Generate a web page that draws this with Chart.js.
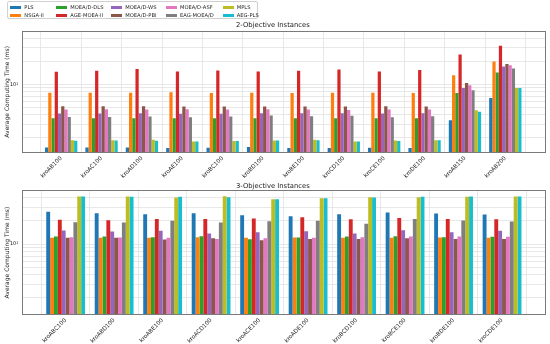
<!DOCTYPE html>
<html lang="en">
<head>
    <meta charset="UTF-8">
    <title>Average Computing Time</title>
    <script src="https://cdn.jsdelivr.net/npm/chart.js"></script>
    <style>
        body {
            margin: 0;
            background: #fff;
            font-family: "DejaVu Sans", sans-serif;
        }
        #wrap {
            position: relative;
            width: 550px;
            height: 344px;
            overflow: hidden;
        }
        #c2 { position: absolute; left: 0; top: 0; }
        #c3 { position: absolute; left: 0; top: 178px; }
        #legend {
            position: absolute;
            left: 6.7px;
            top: 0.5px;
            width: 251px;
            height: 18.5px;
            border: 0.8px solid #d0d0d0;
            border-radius: 2px;
            background: #fff;
            box-sizing: border-box;
        }
        .sw {
            position: absolute;
            width: 10.7px;
            height: 3px;
        }
        .lb {
            position: absolute;
            font-size: 5.2px;
            line-height: 6px;
            color: #222;
            white-space: nowrap;
        }
    </style>
</head>
<body>
<div id="wrap">
    <canvas id="c2" width="550" height="182"></canvas>
    <canvas id="c3" width="550" height="166"></canvas>
    <div id="legend"></div>
</div>

<script>
    const methods = ['PLS', 'NSGA-II', 'MOEA/D-DLS', 'AGE-MOEA-II', 'MOEA/D-WS', 'MOEA/D-PBI', 'MOEA/D-ASF', 'EAG-MOEA/D', 'MPLS', 'AEG-PLS'];
    const colors = ['#1f77b4', '#ff7f0e', '#2ca02c', '#d62728', '#9467bd', '#8c564b', '#e377c2', '#7f7f7f', '#bcbd22', '#17becf'];

    // 2-objective instances
    const cats2 = ['kroAB100', 'kroAC100', 'kroAD100', 'kroAE100', 'kroBC100', 'kroBD100', 'kroBE100', 'kroCD100', 'kroCE100', 'kroDE100', 'kroAB150', 'kroAB200'];
    const pls2  = [1.50, 1.50, 1.50, 1.475, 1.49, 1.52, 1.475, 1.475, 1.49, 1.475, 3.4, 6.64];
    const nsga2 = [7.79, 7.79, 7.79, 7.87, 7.72, 7.79, 7.72, 7.79, 7.79, 7.72, 13.1, 19.9];
    const dls2  = [3.62, 3.62, 3.62, 3.62, 3.62, 3.62, 3.62, 3.62, 3.62, 3.62, 7.7, 14.3];
    const age2  = [14.6, 15.05, 15.8, 14.75, 15.2, 14.75, 15.05, 15.66, 14.75, 15.35, 24.5, 32];
    const ws2   = [4.16, 4.16, 4.20, 4.12, 4.12, 4.20, 4.20, 4.20, 4.16, 4.20, 8.95, 17.1];
    const pbi2  = [5.18, 5.18, 5.18, 5.13, 5.13, 5.13, 5.13, 5.13, 5.18, 5.13, 10.4, 18.4];
    const asf2  = [4.69, 4.74, 4.69, 4.74, 4.69, 4.74, 4.69, 4.64, 4.69, 4.69, 9.7, 17.8];
    const eag2  = [3.76, 3.76, 3.80, 3.73, 3.80, 3.92, 3.84, 3.88, 3.73, 3.84, 8.4, 16.1];
    const mpls2 = [1.87, 1.87, 1.89, 1.80, 1.82, 1.855, 1.89, 1.80, 1.855, 1.87, 4.6, 8.95];
    const aeg2  = [1.84, 1.855, 1.84, 1.80, 1.82, 1.855, 1.87, 1.80, 1.82, 1.87, 4.4, 8.95];

    // 3-objective instances
    const cats3 = ['kroABC100', 'kroABD100', 'kroABE100', 'kroACD100', 'kroACE100', 'kroADE100', 'kroBCD100', 'kroBCE100', 'kroBDE100', 'kroCDE100'];
    const pls3  = [26.3, 25.3, 24.5, 25.3, 23.8, 23.1, 24.5, 25.8, 25.0, 24.3];
    const nsga3 = [12.1, 12.1, 12.1, 12.3, 12.1, 12.2, 12.1, 12.1, 12.2, 12.1];
    const dls3  = [12.6, 12.6, 12.3, 12.7, 11.6, 12.2, 12.6, 12.7, 12.3, 12.45];
    const age3  = [20.7, 20.5, 21.3, 21.3, 21.5, 22.4, 21.1, 21.8, 21.3, 21.1];
    const ws3   = [15.05, 14.6, 14.9, 13.8, 14.3, 14.75, 13.8, 15.2, 14.3, 14.9];
    const pbi3  = [12.1, 12.1, 11.5, 11.97, 11.2, 11.7, 11.7, 11.97, 11.7, 11.7];
    const asf3  = [12.3, 12.2, 12.1, 11.7, 11.97, 12.1, 12.3, 12.6, 12.6, 12.45];
    const eag3  = [19.3, 19.1, 20.1, 19.1, 19.9, 20.1, 18.4, 21.3, 20.3, 19.7];
    const mpls3 = [41.6, 41.6, 40.4, 42.0, 38.4, 39.6, 40.8, 40.8, 41.2, 41.6];
    const aeg3  = [41.6, 41.2, 41.2, 40.8, 38.4, 39.6, 40.4, 41.2, 41.6, 41.6];

    const yTicks = [2, 3, 4, 5, 6, 7, 8, 9, 10, 20, 30, 40];

    const FONT = '"DejaVu Sans", sans-serif';

    const framePlugin = {
        id: 'frame',
        afterDraw(chart) {
            const a = chart.chartArea, ctx = chart.ctx;
            ctx.save();
            ctx.strokeStyle = '#7a7a7a';
            ctx.lineWidth = 1;
            ctx.strokeRect(Math.round(a.left) + 0.5, Math.round(a.top) + 0.5,
                Math.round(a.right - a.left) - 1, Math.round(a.bottom - a.top) - 1);
            ctx.restore();
        }
    };

    function makeChart(id, cats, series, cfg) {
        const datasets = methods.map((m, k) => ({
            label: m,
            data: series[k].map((v, i) => ({ x: i, y: v })),
            backgroundColor: colors[k],
            borderWidth: 0,
            categoryPercentage: 0.8,
            barPercentage: 1.0
        }));

        return new Chart(document.getElementById(id), {
            type: 'bar',
            data: { datasets: datasets },
            options: {
                responsive: false,
                animation: false,
                layout: { padding: { left: 0, right: 4.3, top: 0, bottom: 0 } },
                plugins: {
                    legend: { display: false },
                    tooltip: { enabled: false },
                    title: {
                        display: true,
                        text: cfg.title,
                        color: '#222',
                        font: { family: FONT, size: 6.8, weight: 'normal', lineHeight: 1.2 },
                        padding: { top: cfg.titleTop, bottom: cfg.titleBottom }
                    }
                },
                scales: {
                    x: {
                        type: 'linear',
                        min: cfg.xMin,
                        max: cfg.xMax,
                        offset: false,
                        grid: { color: '#e2e2e2', lineWidth: 0.8, drawTicks: false },
                        border: { display: false },
                        afterBuildTicks: s => { s.ticks = cats.map((c, i) => ({ value: i })); },
                        afterFit: s => { s.height = cfg.xHeight; },
                        ticks: {
                            autoSkip: false,
                            minRotation: 45,
                            maxRotation: 45,
                            padding: 2,
                            color: '#222',
                            font: { family: FONT, size: 5.7 },
                            callback: v => cats[v]
                        }
                    },
                    y: {
                        type: 'logarithmic',
                        min: cfg.yMin,
                        max: cfg.yMax,
                        grid: { color: '#e2e2e2', lineWidth: 0.8, drawTicks: false },
                        border: { display: false },
                        afterBuildTicks: s => { s.ticks = yTicks.map(v => ({ value: v, major: v === 10 })); },
                        afterFit: s => { s.width = 22; },
                        ticks: {
                            padding: 3.7,
                            color: '#222',
                            font: { family: FONT, size: 5 },
                            callback: v => (v === 10 ? '10\u00b9' : '')
                        },
                        title: {
                            display: true,
                            text: 'Average Computing Time (ms)',
                            color: '#222',
                            font: { family: FONT, size: 6 },
                            padding: { top: 3.7, bottom: 0 }
                        }
                    }
                }
            },
            plugins: [framePlugin]
        });
    }

    makeChart('c2', cats2,
        [pls2, nsga2, dls2, age2, ws2, pbi2, asf2, eag2, mpls2, aeg2],
        { title: '2-Objective Instances', titleTop: 21.6, titleBottom: 0.9,
          xMin: -0.97, xMax: 12.0, yMin: 1.27, yMax: 50.2, xHeight: 29 });

    makeChart('c3', cats3,
        [pls3, nsga3, dls3, age3, ws3, pbi3, asf3, eag3, mpls3, aeg3],
        { title: '3-Objective Instances', titleTop: 3.7, titleBottom: 0.3,
          xMin: -0.9, xMax: 9.9, yMin: 1.2, yMax: 50.3, xHeight: 29 });

    // legend: 2 rows, filled column by column
    const swX = [9.3, 55, 110, 165, 222];
    const lbX = [23.3, 69.3, 124.3, 179, 235.7];
    const rowY = [6, 14];
    const legend = document.getElementById('legend');
    methods.forEach((m, i) => {
        const col = Math.floor(i / 2), row = i % 2;
        const sw = document.createElement('div');
        sw.className = 'sw';
        sw.style.left = (swX[col] - 6.7) + 'px';
        sw.style.top = (rowY[row] - 1.5 - 0.5) + 'px';
        sw.style.background = colors[i];
        legend.appendChild(sw);
        const lb = document.createElement('div');
        lb.className = 'lb';
        lb.style.left = (lbX[col] - 6.7) + 'px';
        lb.style.top = (rowY[row] - 3 - 0.5) + 'px';
        lb.textContent = m;
        legend.appendChild(lb);
    });
</script>
</body>
</html>
